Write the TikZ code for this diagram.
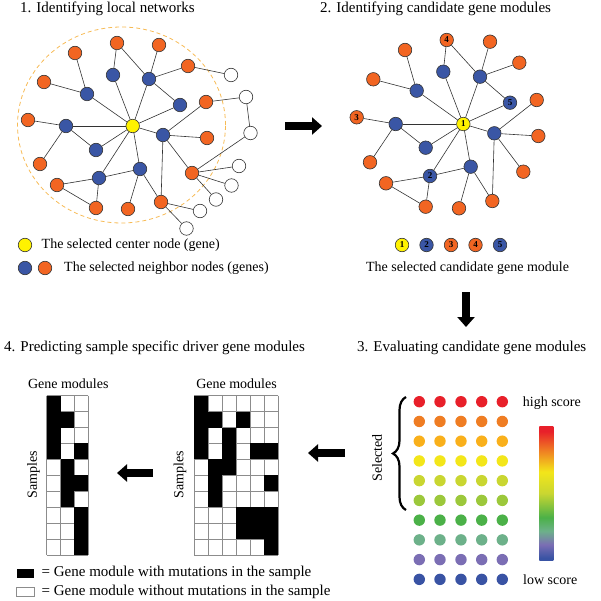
\documentclass[tikz,border=0pt]{standalone}
\usepackage{fontspec}
\setmainfont{Liberation Serif}
\usetikzlibrary{arrows.meta,decorations.pathreplacing}

\definecolor{geneblue}{HTML}{3A56A5}
\definecolor{geneorange}{HTML}{F26522}
\definecolor{geneyellow}{HTML}{FFF200}
\definecolor{ringorange}{HTML}{F7BB55}
\definecolor{sa}{HTML}{E8202A}
\definecolor{sb}{HTML}{EF7D23}
\definecolor{sc}{HTML}{F9B01B}
\definecolor{sd}{HTML}{F3E61A}
\definecolor{se}{HTML}{C9D631}
\definecolor{sf}{HTML}{9CC83B}
\definecolor{sg}{HTML}{4BB148}
\definecolor{sh}{HTML}{6DB18A}
\definecolor{si}{HTML}{7B6EB4}
\definecolor{sj}{HTML}{3953A4}

\pgfdeclareverticalshading{scorebar}{100bp}{color(0bp)=(sj); color(26bp)=(sj); color(31bp)=(si); color(36bp)=(sh); color(41bp)=(sg); color(50bp)=(se); color(58bp)=(sd); color(66bp)=(sb); color(73bp)=(sa); color(100bp)=(sa)}

\begin{document}
\begin{tikzpicture}[x=1pt, y=-1pt,
  every node/.style={font=\fontsize{14}{16}\selectfont},
  gene/.style={circle, draw=black!80, line width=.6pt, minimum size=13.5pt, inner sep=0pt, font=\bfseries\fontsize{9}{9}\selectfont},
  centre/.style={gene, fill=geneyellow},
  nbblue/.style={gene, fill=geneblue},
  nborange/.style={gene, fill=geneorange},
  faded/.style={gene, fill=white},
  link/.style={draw=black!80, line width=.6pt},
  ring/.style={draw=ringorange, line width=.8pt, dash pattern=on 4pt off 3pt},
  bigarrow/.style={line width=8pt, -{Triangle[length=10pt,width=17pt]}},
  cellline/.style={draw=black!45, line width=.7pt},
  label/.style={inner sep=0pt},
  heading/.style={label, anchor=base west, font=\fontsize{15}{17}\selectfont}]
 \useasboundingbox (0,0) rectangle (600,601);

 % 1. local network
 \node[heading] (t1) at (20,13) {1. Identifying local networks};
 \draw[ring] (121.5,125) ellipse [x radius=104pt, y radius=98pt];
 \node (lc) [centre] at (132.7,126) {};
 \node (lb1) [nbblue] at (113,75) {};
 \node (lb2) [nbblue] at (149,79) {};
 \node (lb3) [nbblue] at (87,94) {};
 \node (lb4) [nbblue] at (180,105) {};
 \node (lb5) [nbblue] at (66,126) {};
 \node (lb6) [nbblue] at (163,135) {};
 \node (lb7) [nbblue] at (96,150) {};
 \node (lb8) [nbblue] at (140,169) {};
 \node (lb9) [nbblue] at (99,178) {};
 \node (lo1) [nborange] at (117,43) {};
 \node (lo2) [nborange] at (159,45) {};
 \node (lo3) [nborange] at (75,53) {};
 \node (lo4) [nborange] at (188,66) {};
 \node (lo5) [nborange] at (44,82) {};
 \node (lo6) [nborange] at (206,102) {};
 \node (lo7) [nborange] at (28,120) {};
 \node (lo8) [nborange] at (207,138) {};
 \node (lo9) [nborange] at (40,164) {};
 \node (lo10) [nborange] at (192,173) {};
 \node (lo11) [nborange] at (57,185) {};
 \node (lo12) [nborange] at (96,208) {};
 \node (lo13) [nborange] at (128,209) {};
 \node (lo14) [nborange] at (161,202) {};
 \node (lw1) [faded] at (231,75) {};
 \node (lw2) [faded] at (246,97) {};
 \node (lw3) [faded] at (250.5,133) {};
 \node (lw4) [faded] at (239,166) {};
 \node (lw5) [faded] at (231.5,185.5) {};
 \node (lw6) [faded] at (216,199.5) {};
 \node (lw7) [faded] at (200,211) {};
 \node (lw8) [faded] at (186.5,228.5) {};
 \foreach \b in {1,...,9} \draw[link] (lc) -- (lb\b);
 \draw[link] (lo1) -- (lb1);
 \draw[link] (lo1) -- (lb2) -- (lo2);
 \draw[link] (lo4) -- (lb2) -- (lb4);
 \draw[link] (lo3) -- (lb3) -- (lo5);
 \draw[link] (lo7) -- (lb5) -- (lo9);
 \draw[link] (lb5) -- (lb7);
 \draw[link] (lo6) -- (lb6) -- (lo8);
 \draw[link] (lo10) -- (lb6) -- (lo14) -- (lb8) -- (lo13);
 \draw[link] (lb8) -- (lb9) -- (lo11) -- (lo12) -- (lb9);
 \draw[link] (lo4) -- (lw1);
 \draw[link] (lo6) -- (lw2) -- (lw3) -- (lo10);
 \draw[link] (lw4) -- (lo10) -- (lw5);
 \draw[link] (lo10) -- (lw6);
 \draw[link] (lw7) -- (lo14) -- (lw8);
 \node (ly) [centre] at (25,245) {};
 \node (lyb) [nbblue] at (25,268) {};
 \node (lyo) [nborange] at (45,268) {};
 \node[label, anchor=west] (ltxt1) at (41.5,245) {The selected center node (gene)};
 \node[label, anchor=west] (ltxt2) at (64,268) {The selected neighbor nodes (genes)};

 % 2. candidate module
 \node[heading] (t2) at (320,13) {2. Identifying candidate gene modules};
 \node (mc) [centre] at (463.3,124) {1};
 \node (mb1) [nbblue] at (443.3,71.7) {};
 \node (mb2) [nbblue] at (480,76.7) {};
 \node (mb3) [nbblue] at (416.7,90.7) {};
 \node (mb4) [nbblue] at (510,102.7) {5};
 \node (mb5) [nbblue] at (395.7,124) {};
 \node (mb6) [nbblue] at (494.3,133.3) {};
 \node (mb7) [nbblue] at (425.7,147.7) {};
 \node (mb8) [nbblue] at (470.7,166.7) {};
 \node (mb9) [nbblue] at (430,176) {2};
 \node (mo1) [nborange] at (446.7,40) {4};
 \node (mo2) [nborange] at (490,41.7) {};
 \node (mo3) [nborange] at (405,50) {};
 \node (mo4) [nborange] at (519.3,62.7) {};
 \node (mo5) [nborange] at (373.3,79.3) {};
 \node (mo6) [nborange] at (536.7,100) {};
 \node (mo7) [nborange] at (356.7,117.3) {3};
 \node (mo8) [nborange] at (538.3,136) {};
 \node (mo9) [nborange] at (370,162.3) {};
 \node (mo10) [nborange] at (523.3,171.7) {};
 \node (mo11) [nborange] at (386,183.3) {};
 \node (mo12) [nborange] at (425.7,206.7) {};
 \node (mo13) [nborange] at (459,208.3) {};
 \node (mo14) [nborange] at (492.3,201) {};
 \foreach \b in {1,...,9} \draw[link] (mc) -- (mb\b);
 \draw[link] (mo1) -- (mb1);
 \draw[link] (mo1) -- (mb2) -- (mo2);
 \draw[link] (mo4) -- (mb2) -- (mb4);
 \draw[link] (mo3) -- (mb3) -- (mo5);
 \draw[link] (mo7) -- (mb5) -- (mo9);
 \draw[link] (mb5) -- (mb7);
 \draw[link] (mo6) -- (mb6) -- (mo8);
 \draw[link] (mo10) -- (mb6) -- (mo14) -- (mb8) -- (mo13);
 \draw[link] (mb8) -- (mb9) -- (mo11) -- (mo12) -- (mb9);
 \node (md1) [centre] at (402,245) {1};
 \node (md2) [nbblue] at (426.5,245) {2};
 \node (md3) [nborange] at (451,245) {3};
 \node (md4) [nborange] at (475.5,245) {4};
 \node (md5) [nbblue] at (500,245) {5};
 \node[label] (mtxt) at (467.5,268) {The selected candidate gene module};

 % arrows between steps
 \coordinate (a1s) at (285,126);
 \coordinate (a1e) at (322,126);
 \coordinate (a2s) at (466,292);
 \coordinate (a2e) at (466,327);
 \coordinate (a3s) at (345,453);
 \coordinate (a3e) at (308,453);
 \coordinate (a4s) at (153,473);
 \coordinate (a4e) at (117,473);
 \draw[bigarrow] (a1s) -- (a1e);
 \draw[bigarrow] (a2s) -- (a2e);
 \draw[bigarrow] (a3s) -- (a3e);
 \draw[bigarrow] (a4s) -- (a4e);

 % 3. scores
 \node[heading] (t3) at (357,351) {3. Evaluating candidate gene modules};
 \foreach \col [count=\r] in {sa,sb,sc,sd,se,sf,sg,sh,si,sj}
   \foreach \x in {419.3,440,461,481.7,502.3}
     \fill[\col] (\x,401.7+\r*19.74-19.74) circle [radius=5.7pt];
 \shade[shading=scorebar] (539.3,426) rectangle (553.3,560.7);
 \node[label, anchor=west] (hi) at (522.7,403) {high score};
 \node[label, anchor=west] (lo) at (523,579.5) {low score};
 \coordinate (selb) at (406,510);
 \coordinate (selt) at (406,397);
 \draw[line width=2.2pt, decorate, decoration={brace, amplitude=13pt}] (selb) -- (selt);
 \node[label, rotate=90] (sel) at (377,458) {Selected};

 % 4. driver modules
 \node[heading] (t4) at (4,351) {4. Predicting sample specific driver gene modules};
 \node[label] (gm1) at (68.3,383.5) {Gene modules};
 \node[label] (gm2) at (236.5,383.5) {Gene modules};
 \node[label, rotate=90] (sm1) at (33.5,475) {Samples};
 \node[label, rotate=90] (sm2) at (180,475) {Samples};
 \foreach \i in {0,...,3} \draw[cellline] (46.7+\i*13.87,395.7) -- (46.7+\i*13.87,555);
 \foreach \j in {0,...,10} \draw[cellline] (46.7,395.7+\j*15.93) -- (88.3,395.7+\j*15.93);
 \foreach \c/\r in {1/1,1/2,2/2,1/3,1/4,3/4,2/5,2/6,3/6,2/7,3/8,3/9,3/10}
   \fill (46.7+\c*13.87-13.87,395.7+\r*15.93-15.93) rectangle ++(13.87,15.93);
 \foreach \i in {0,...,6} \draw[cellline] (194.3+\i*14,395.7) -- (194.3+\i*14,555);
 \foreach \j in {0,...,10} \draw[cellline] (194.3,395.7+\j*15.93) -- (278.3,395.7+\j*15.93);
 \foreach \c/\r in {1/1,1/2,2/2,4/2,1/3,3/3,1/4,3/4,5/4,6/4,2/5,3/5,2/6,6/6,2/7,4/8,5/8,6/8,4/9,5/9,6/9,6/10}
   \fill (194.3+\c*14-14,395.7+\r*15.93-15.93) rectangle ++(14,15.93);
 \fill (16.7,569) rectangle (34.3,577.5);
 \draw[cellline] (16.7,587.5) rectangle (34.3,596);
 \node[label, anchor=west, font=\fontsize{15}{17}\selectfont] (key1) at (41.5,573) {= Gene module with mutations in the sample};
 \node[label, anchor=west, font=\fontsize{15}{17}\selectfont] (key2) at (41.5,592) {= Gene module without mutations in the sample};
\end{tikzpicture}
\end{document}
